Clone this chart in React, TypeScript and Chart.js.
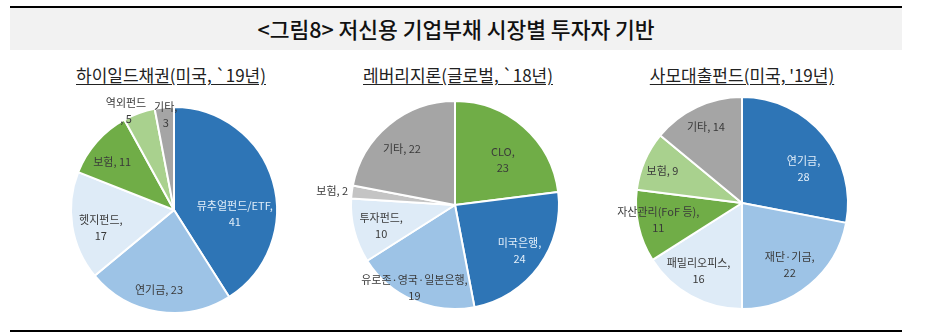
import React, { useEffect, useRef } from "react";
import { Chart, registerables } from "chart.js";

Chart.register(...registerables);

// ---------- data ----------
const titleText = "<그림8> 저신용 기업부채 시장별 투자자 기반";

const hyTitle = "하이일드채권(미국, `19년)";
const hyCategories = ["뮤추얼펀드/ETF", "연기금", "헷지펀드", "보험", "역외펀드", "기타"];
const hyValues = [41, 23, 17, 11, 5, 3];

const llTitle = "레버리지론(글로벌, `18년)";
const llCategories = ["CLO", "미국은행", "유로존·영국·일본은행", "투자펀드", "보험", "기타"];
const llValues = [23, 24, 19, 10, 2, 22];

const pdTitle = "사모대출펀드(미국, '19년)";
const pdCategories = ["연기금", "재단·기금", "패밀리오피스", "자산관리(FoF 등)", "보험", "기타"];
const pdValues = [28, 22, 16, 11, 9, 14];

// ---------- styles / layout ----------
const DARK = "#2E75B6";
const LIGHT = "#9DC3E6";
const PALE = "#DEEBF7";
const GREEN = "#70AD47";
const LGREEN = "#A9D18E";
const GREY = "#A5A5A5";
const LGREY = "#C4C4C4";
const TXT = "#3A3A3A";
const TXT_LIGHT = "#E2EEF9";

type PieSpec = {
  title: string;
  categories: string[];
  values: number[];
  colors: string[];
  // label anchor offsets in units of the radius
  pos: [number, number][];
  // 0: "name, v" ; 1: "name," / "v" ; 2: "name" / ", v"
  wrap: number[];
  textColors: string[];
  left: number;
  top: number;
  radius: number;
};

const pies: PieSpec[] = [
  {
    title: hyTitle,
    categories: hyCategories,
    values: hyValues,
    colors: [DARK, LIGHT, PALE, GREEN, LGREEN, GREY],
    pos: [
      [0.59, 0.04],
      [-0.146, 0.777],
      [-0.71, 0.17],
      [-0.6, -0.47],
      [-0.466, -0.96],
      [-0.08, -0.92],
    ],
    wrap: [1, 0, 1, 0, 2, 1],
    textColors: [TXT_LIGHT, TXT, TXT, TXT, TXT, TXT],
    left: 24,
    top: 90,
    radius: 103,
  },
  {
    title: llTitle,
    categories: llCategories,
    values: llValues,
    colors: [GREEN, DARK, LIGHT, PALE, LGREY, GREY],
    pos: [
      [0.46, -0.43],
      [0.62, 0.44],
      [-0.39, 0.8],
      [-0.71, 0.2],
      [-1.18, -0.135],
      [-0.51, -0.54],
    ],
    wrap: [1, 1, 1, 1, 0, 0],
    textColors: [TXT, TXT_LIGHT, TXT, TXT, TXT, TXT],
    left: 305,
    top: 85,
    radius: 104,
  },
  {
    title: pdTitle,
    categories: pdCategories,
    values: pdValues,
    colors: [DARK, LIGHT, PALE, GREEN, LGREEN, GREY],
    pos: [
      [0.58, -0.32],
      [0.45, 0.58],
      [-0.41, 0.64],
      [-0.79, 0.16],
      [-0.75, -0.3],
      [-0.34, -0.72],
    ],
    wrap: [1, 1, 1, 1, 0, 0],
    textColors: [TXT_LIGHT, TXT, TXT, TXT, TXT, TXT],
    left: 592,
    top: 83,
    radius: 106,
  },
];

const CANVAS_W = 300;
const CANVAS_H = 240;
const LABEL_FONT = "11px 'Noto Sans CJK KR', 'Noto Sans', sans-serif";
const LINE_H = 16;

const sliceLabelPlugin = {
  id: "sliceLabels",
  afterDatasetsDraw(chart: any, _args: any, opts: any) {
    const meta = chart.getDatasetMeta(0);
    const ctx = chart.ctx as CanvasRenderingContext2D;
    const cats = chart.data.labels as string[];
    const vals = chart.data.datasets[0].data as number[];
    meta.data.forEach((arc: any, i: number) => {
      const p = arc.getProps(["x", "y", "outerRadius"], true);
      const [dx, dy] = opts.pos[i];
      const name = cats[i];
      const v = String(vals[i]);
      let lines: string[];
      if (opts.wrap[i] === 1) lines = [name + ",", v];
      else if (opts.wrap[i] === 2) lines = [name, ", " + v];
      else lines = [name + ", " + v];
      const cx = p.x + dx * p.outerRadius;
      const cy = p.y + dy * p.outerRadius;
      ctx.save();
      ctx.font = LABEL_FONT;
      ctx.fillStyle = opts.textColors[i];
      ctx.textAlign = "center";
      ctx.textBaseline = "middle";
      lines.forEach((ln, k) => {
        ctx.fillText(ln, cx, cy + (k - (lines.length - 1) / 2) * LINE_H);
      });
      ctx.restore();
    });
  },
};

function PieChart({ spec }: { spec: PieSpec }) {
  const ref = useRef<HTMLCanvasElement | null>(null);
  useEffect(() => {
    if (!ref.current) return;
    const chart = new Chart(ref.current, {
      type: "pie",
      data: {
        labels: spec.categories,
        datasets: [
          {
            data: spec.values,
            backgroundColor: spec.colors,
            borderColor: "#FFFFFF",
            borderWidth: 2,
            hoverOffset: 0,
          },
        ],
      },
      options: {
        responsive: false,
        animation: false,
        events: [],
        radius: spec.radius,
        layout: { padding: 0 },
        plugins: {
          legend: { display: false },
          tooltip: { enabled: false },
          title: { display: false },
          sliceLabels: {
            pos: spec.pos,
            wrap: spec.wrap,
            textColors: spec.textColors,
          },
        } as any,
      } as any,
      plugins: [sliceLabelPlugin],
    });
    return () => chart.destroy();
  }, [spec]);
  return (
    <canvas
      ref={ref}
      width={CANVAS_W}
      height={CANVAS_H}
      style={{
        position: "absolute",
        left: spec.left,
        top: spec.top,
        width: CANVAS_W,
        height: CANVAS_H,
      }}
    />
  );
}

const subtitleCenters = [171, 458, 742];

export default function App() {
  return (
    <div
      style={{
        position: "fixed",
        left: 0,
        top: 0,
        width: 945,
        height: 333,
        background: "#FFFFFF",
        overflow: "hidden",
        fontFamily: "'Noto Sans CJK KR', 'Noto Sans', sans-serif",
      }}
    >
      <div
        style={{
          position: "absolute",
          left: 10,
          top: 6,
          width: 892,
          height: 2,
          background: "#000",
        }}
      />
      <div
        style={{
          position: "absolute",
          left: 10,
          top: 8,
          width: 892,
          height: 42,
          background: "#F2F2F2",
        }}
      />
      <div
        style={{
          position: "absolute",
          left: 10,
          top: 14,
          width: 892,
          height: 30,
          lineHeight: "30px",
          textAlign: "center",
          fontSize: 21.5,
          fontWeight: 500,
          color: "#111",
          whiteSpace: "pre",
        }}
      >
        {titleText}
      </div>
      {pies.map((p, i) => (
        <div
          key={"t" + i}
          style={{
            position: "absolute",
            left: subtitleCenters[i] - 150,
            top: 64,
            width: 300,
            height: 22,
            lineHeight: "22px",
            textAlign: "center",
            fontSize: 17,
            color: "#222",
            textDecoration: "underline",
            textUnderlineOffset: "2px",
            whiteSpace: "pre",
          }}
        >
          {p.title}
        </div>
      ))}
      {pies.map((p, i) => (
        <PieChart key={"c" + i} spec={p} />
      ))}
      <div
        style={{
          position: "absolute",
          left: 10,
          top: 330,
          width: 892,
          height: 2,
          background: "#000",
        }}
      />
    </div>
  );
}
